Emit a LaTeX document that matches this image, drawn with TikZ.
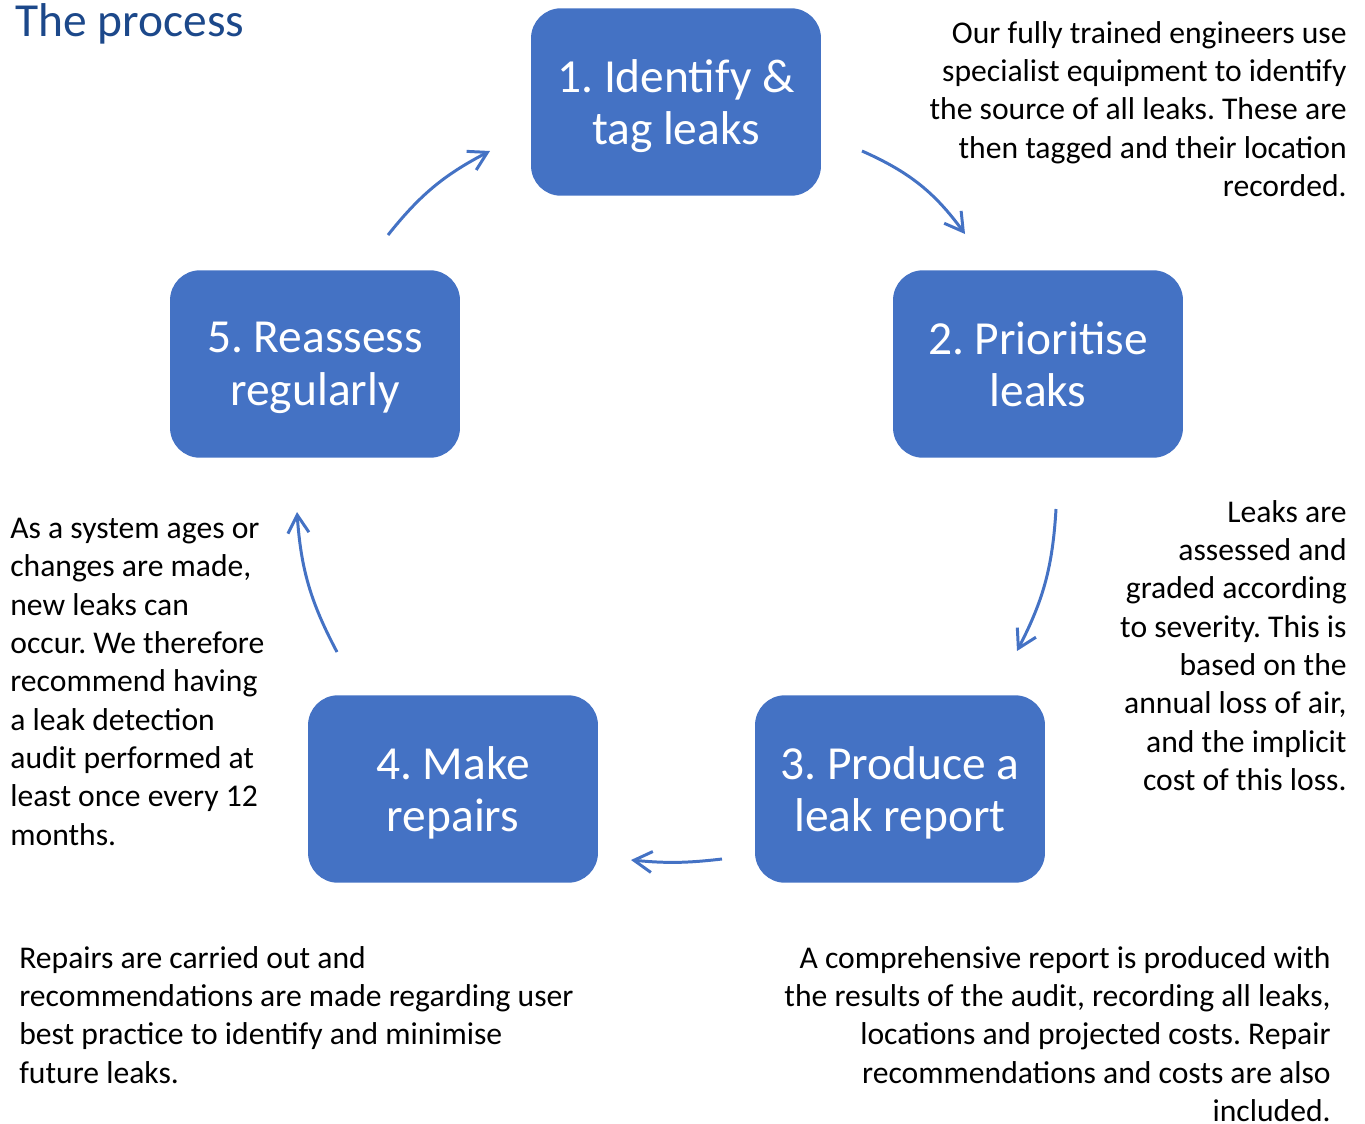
\documentclass[tikz,border=0pt]{standalone}
\usepackage{fontspec}
\setmainfont{Carlito}
\frenchspacing
\usetikzlibrary{arrows.meta}
\tikzset{>={Straight Barb[length=3.6mm, width=4.2mm]}}
\definecolor{boxblue}{RGB}{68,114,196}
\definecolor{titleblue}{RGB}{28,72,138}

\begin{document}
\begin{tikzpicture}[x=0.02cm, y=-0.02cm,
    stepbox/.style={fill=boxblue, rounded corners=0.6cm, minimum width=5.8cm, minimum height=3.75cm,
        text=white, align=center, font=\fontsize{27}{30}\selectfont, text depth=0pt},
    note/.style={inner sep=0pt, font=\fontsize{18}{21.8}\selectfont},
    flow/.style={->, draw=boxblue, line width=1.7pt}]
    \useasboundingbox (0, 0) rectangle (1365, 1123);
    \node[anchor=base west, inner sep=0pt, text=titleblue, font=\fontsize{27}{30}\selectfont] (title) at (15, 36) {The process};

    % the five steps of the cycle
    \node[stepbox] (identify) at (676, 102) {1. Identify \&\\tag leaks};
    \node[stepbox] (prioritise) at (1038, 364) {2. Prioritise\\leaks};
    \node[stepbox] (report) at (900, 789) {3. Produce a\\leak report};
    \node[stepbox] (repairs) at (453, 789) {4. Make\\repairs};
    \node[stepbox] (reassess) at (315, 364) {5. Reassess\\regularly};

    % notes beside each step
    \node[note, anchor=north east, align=right] (identifynote) at (1347, 21)
        {Our fully trained engineers use\\specialist equipment to identify\\the source of all leaks. These are\\then tagged and their location\\recorded.};
    \node[note, anchor=north east, align=right] (prioritisenote) at (1347, 500)
        {Leaks are\\assessed and\\graded according\\to severity. This is\\based on the\\annual loss of air,\\and the implicit\\cost of this loss.};
    \node[note, anchor=north east, align=right] (reportnote) at (1331, 946)
        {A comprehensive report is produced with\\the results of the audit, recording all leaks,\\locations and projected costs. Repair\\recommendations and costs are also\\included.};
    \node[note, anchor=north west, align=left] (repairsnote) at (19, 946)
        {Repairs are carried out and\\recommendations are made regarding user\\best practice to identify and minimise\\future leaks.};
    \node[note, anchor=north west, align=left] (reassessnote) at (10, 518)
        {As a system ages or\\changes are made,\\new leaks can\\occur. We therefore\\recommend having\\a leak detection\\audit performed at\\least once every 12\\months.};

    % arrows round the cycle
    \coordinate (ra) at (388, 235); \coordinate (ib) at (490, 151);
    \coordinate (ia) at (862, 151); \coordinate (pb) at (965, 234);
    \coordinate (pa) at (1056, 509); \coordinate (rb) at (1017, 651);
    \coordinate (ta) at (722, 859); \coordinate (mb) at (631, 860);
    \coordinate (ma) at (337, 652); \coordinate (sb) at (297, 512);
    \draw[flow] (ra) to[bend left=12] (ib);
    \draw[flow] (ia) to[bend left=15] (pb);
    \draw[flow] (pa) to[bend left=12] (rb);
    \draw[flow] (ta) to[bend left=6] (mb);
    \draw[flow] (ma) to[bend left=12] (sb);
\end{tikzpicture}
\end{document}
